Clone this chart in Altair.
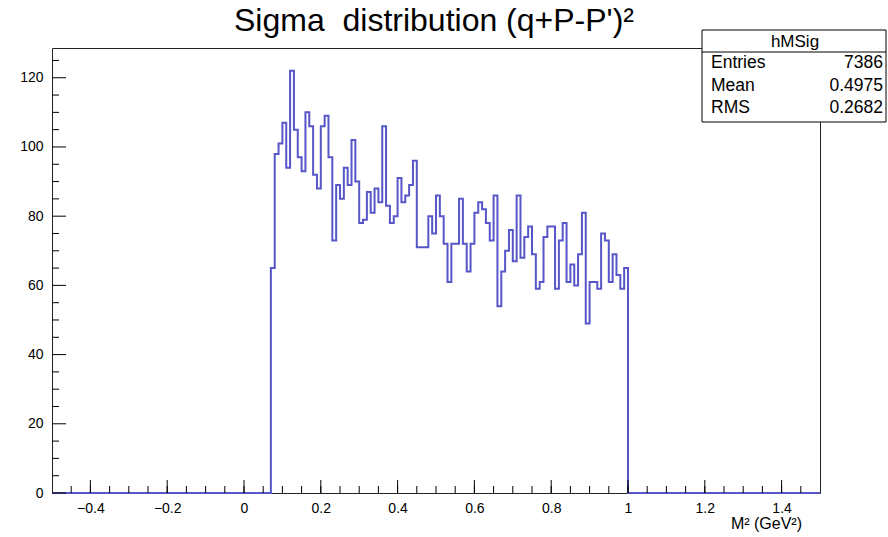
import altair as alt
import pandas as pd

# ---- data ----
counts = [65, 98, 101, 107, 94, 122, 105, 97, 93, 110,
          106, 92, 88, 106, 109, 97, 73, 89, 85, 94,
          89, 102, 90, 78, 79, 87, 81, 88, 84, 106,
          83, 78, 80, 91, 84, 86, 89, 96, 71, 71,
          71, 80, 75, 86, 80, 72, 61, 72, 72, 85,
          72, 64, 72, 81, 84, 82, 78, 73, 86, 54,
          64, 70, 76, 67, 86, 68, 74, 77, 69, 59,
          61, 74, 77, 77, 59, 73, 78, 61, 66, 60,
          69, 81, 49, 61, 61, 59, 75, 73, 61, 69,
          63, 59, 65]
bin_start = 0.07
bin_width = 0.01
x_range = [-0.5, 1.5]
y_range = [0, 128.6]

x_labels = [-0.4, -0.2, 0, 0.2, 0.4, 0.6, 0.8, 1.0, 1.2, 1.4]
x_minor = [-0.45, -0.4, -0.35, -0.3, -0.25, -0.2, -0.15, -0.1, -0.05, 0, 0.05, 0.1, 0.15,
           0.2, 0.25, 0.3, 0.35, 0.4, 0.45, 0.5, 0.55, 0.6, 0.65, 0.7, 0.75, 0.8, 0.85,
           0.9, 0.95, 1.0, 1.05, 1.1, 1.15, 1.2, 1.25, 1.3, 1.35, 1.4, 1.45]
y_labels = [0, 20, 40, 60, 80, 100, 120]
y_minor = [5, 10, 15, 25, 30, 35, 45, 50, 55, 65, 70, 75, 85, 90, 95, 105, 110, 115, 125]

title_text = "Sigma \u00a0distribution (q+P-P')\u00b2"
x_title = "M\u00b2 (GeV\u00b2)"
stat_name = "hMSig"
stat_labels = ["Entries", "Mean", "RMS"]
stat_values = ["7386", "0.4975", "0.2682"]

W, H = 768, 445
FONT = "Liberation Sans"
LINE_COLOR = "#5656c8"

# ---- build tables ----
edges = [round(bin_start + i * bin_width, 4) for i in range(len(counts) + 1)]
step_x = [x_range[0]] + edges + [x_range[1]]
step_y = [0] + counts + [0, 0]
hist_df = pd.DataFrame({"x": step_x, "y": step_y, "o": list(range(len(step_x)))})

xs = alt.Scale(domain=x_range, nice=False, zero=False)
ys = alt.Scale(domain=y_range, nice=False, zero=False)

hist = alt.Chart(hist_df).mark_line(
    interpolate="step-after", color=LINE_COLOR, strokeWidth=2
).encode(
    x=alt.X("x:Q", scale=xs,
            axis=alt.Axis(values=x_labels, ticks=False, domain=False, grid=False,
                          format=".1~f", labelFont=FONT, labelFontSize=14,
                          labelColor="black", labelPadding=8, title=None)),
    y=alt.Y("y:Q", scale=ys,
            axis=alt.Axis(values=y_labels, ticks=False, domain=False, grid=False,
                          labelFont=FONT, labelFontSize=14, labelColor="black",
                          labelPadding=9, title=None)),
    order="o:Q",
)

# inside ticks (ROOT style)
ymaj = alt.Chart(pd.DataFrame({"v": y_labels})).mark_rule(color="black", strokeWidth=1).encode(
    y=alt.Y("v:Q", scale=ys), x=alt.value(0), x2=alt.value(14))
ymin = alt.Chart(pd.DataFrame({"v": y_minor})).mark_rule(color="black", strokeWidth=1).encode(
    y=alt.Y("v:Q", scale=ys), x=alt.value(0), x2=alt.value(7))
xmaj = alt.Chart(pd.DataFrame({"v": x_labels})).mark_rule(color="black", strokeWidth=1).encode(
    x=alt.X("v:Q", scale=xs), y=alt.value(H), y2=alt.value(H - 13))
xmin = alt.Chart(pd.DataFrame({"v": x_minor})).mark_rule(color="black", strokeWidth=1).encode(
    x=alt.X("v:Q", scale=xs), y=alt.value(H), y2=alt.value(H - 7))

one = pd.DataFrame({"k": [0]})

title = alt.Chart(one).mark_text(
    text=title_text, font=FONT, fontSize=32, align="center", baseline="alphabetic", color="black"
).encode(x=alt.value(382), y=alt.value(-17))

xtitle = alt.Chart(one).mark_text(
    text=x_title, font=FONT, fontSize=16, align="right", baseline="alphabetic", color="black"
).encode(x=alt.value(750), y=alt.value(481))

# stats box
box = alt.Chart(one).mark_rect(fill="white", stroke="black", strokeWidth=1).encode(
    x=alt.value(650), x2=alt.value(834), y=alt.value(-18), y2=alt.value(74))
sep = alt.Chart(one).mark_rule(color="black", strokeWidth=1).encode(
    x=alt.value(650), x2=alt.value(834), y=alt.value(4))
stat_head = alt.Chart(one).mark_text(
    text=stat_name, font=FONT, fontSize=17, align="center", baseline="middle", color="black"
).encode(x=alt.value(743), y=alt.value(-6))

row_y = [15, 38, 60]
stat_layers = []
for lab, val, ry in zip(stat_labels, stat_values, row_y):
    stat_layers.append(alt.Chart(one).mark_text(
        text=lab, font=FONT, fontSize=17.5, align="left", baseline="middle", color="black"
    ).encode(x=alt.value(659), y=alt.value(ry)))
    stat_layers.append(alt.Chart(one).mark_text(
        text=val, font=FONT, fontSize=17.5, align="right", baseline="middle", color="black"
    ).encode(x=alt.value(831), y=alt.value(ry)))

chart = alt.layer(
    hist, ymaj, ymin, xmaj, xmin, title, xtitle, box, sep, stat_head, *stat_layers
).properties(
    width=W, height=H,
    autosize=alt.AutoSizeParams(type="none"),
    padding={"left": 52, "top": 48, "right": 68, "bottom": 44},
    background="white",
).configure_view(stroke="#222", strokeWidth=1)

chart.save("out.html", embed_options={"renderer": "svg", "actions": False})
